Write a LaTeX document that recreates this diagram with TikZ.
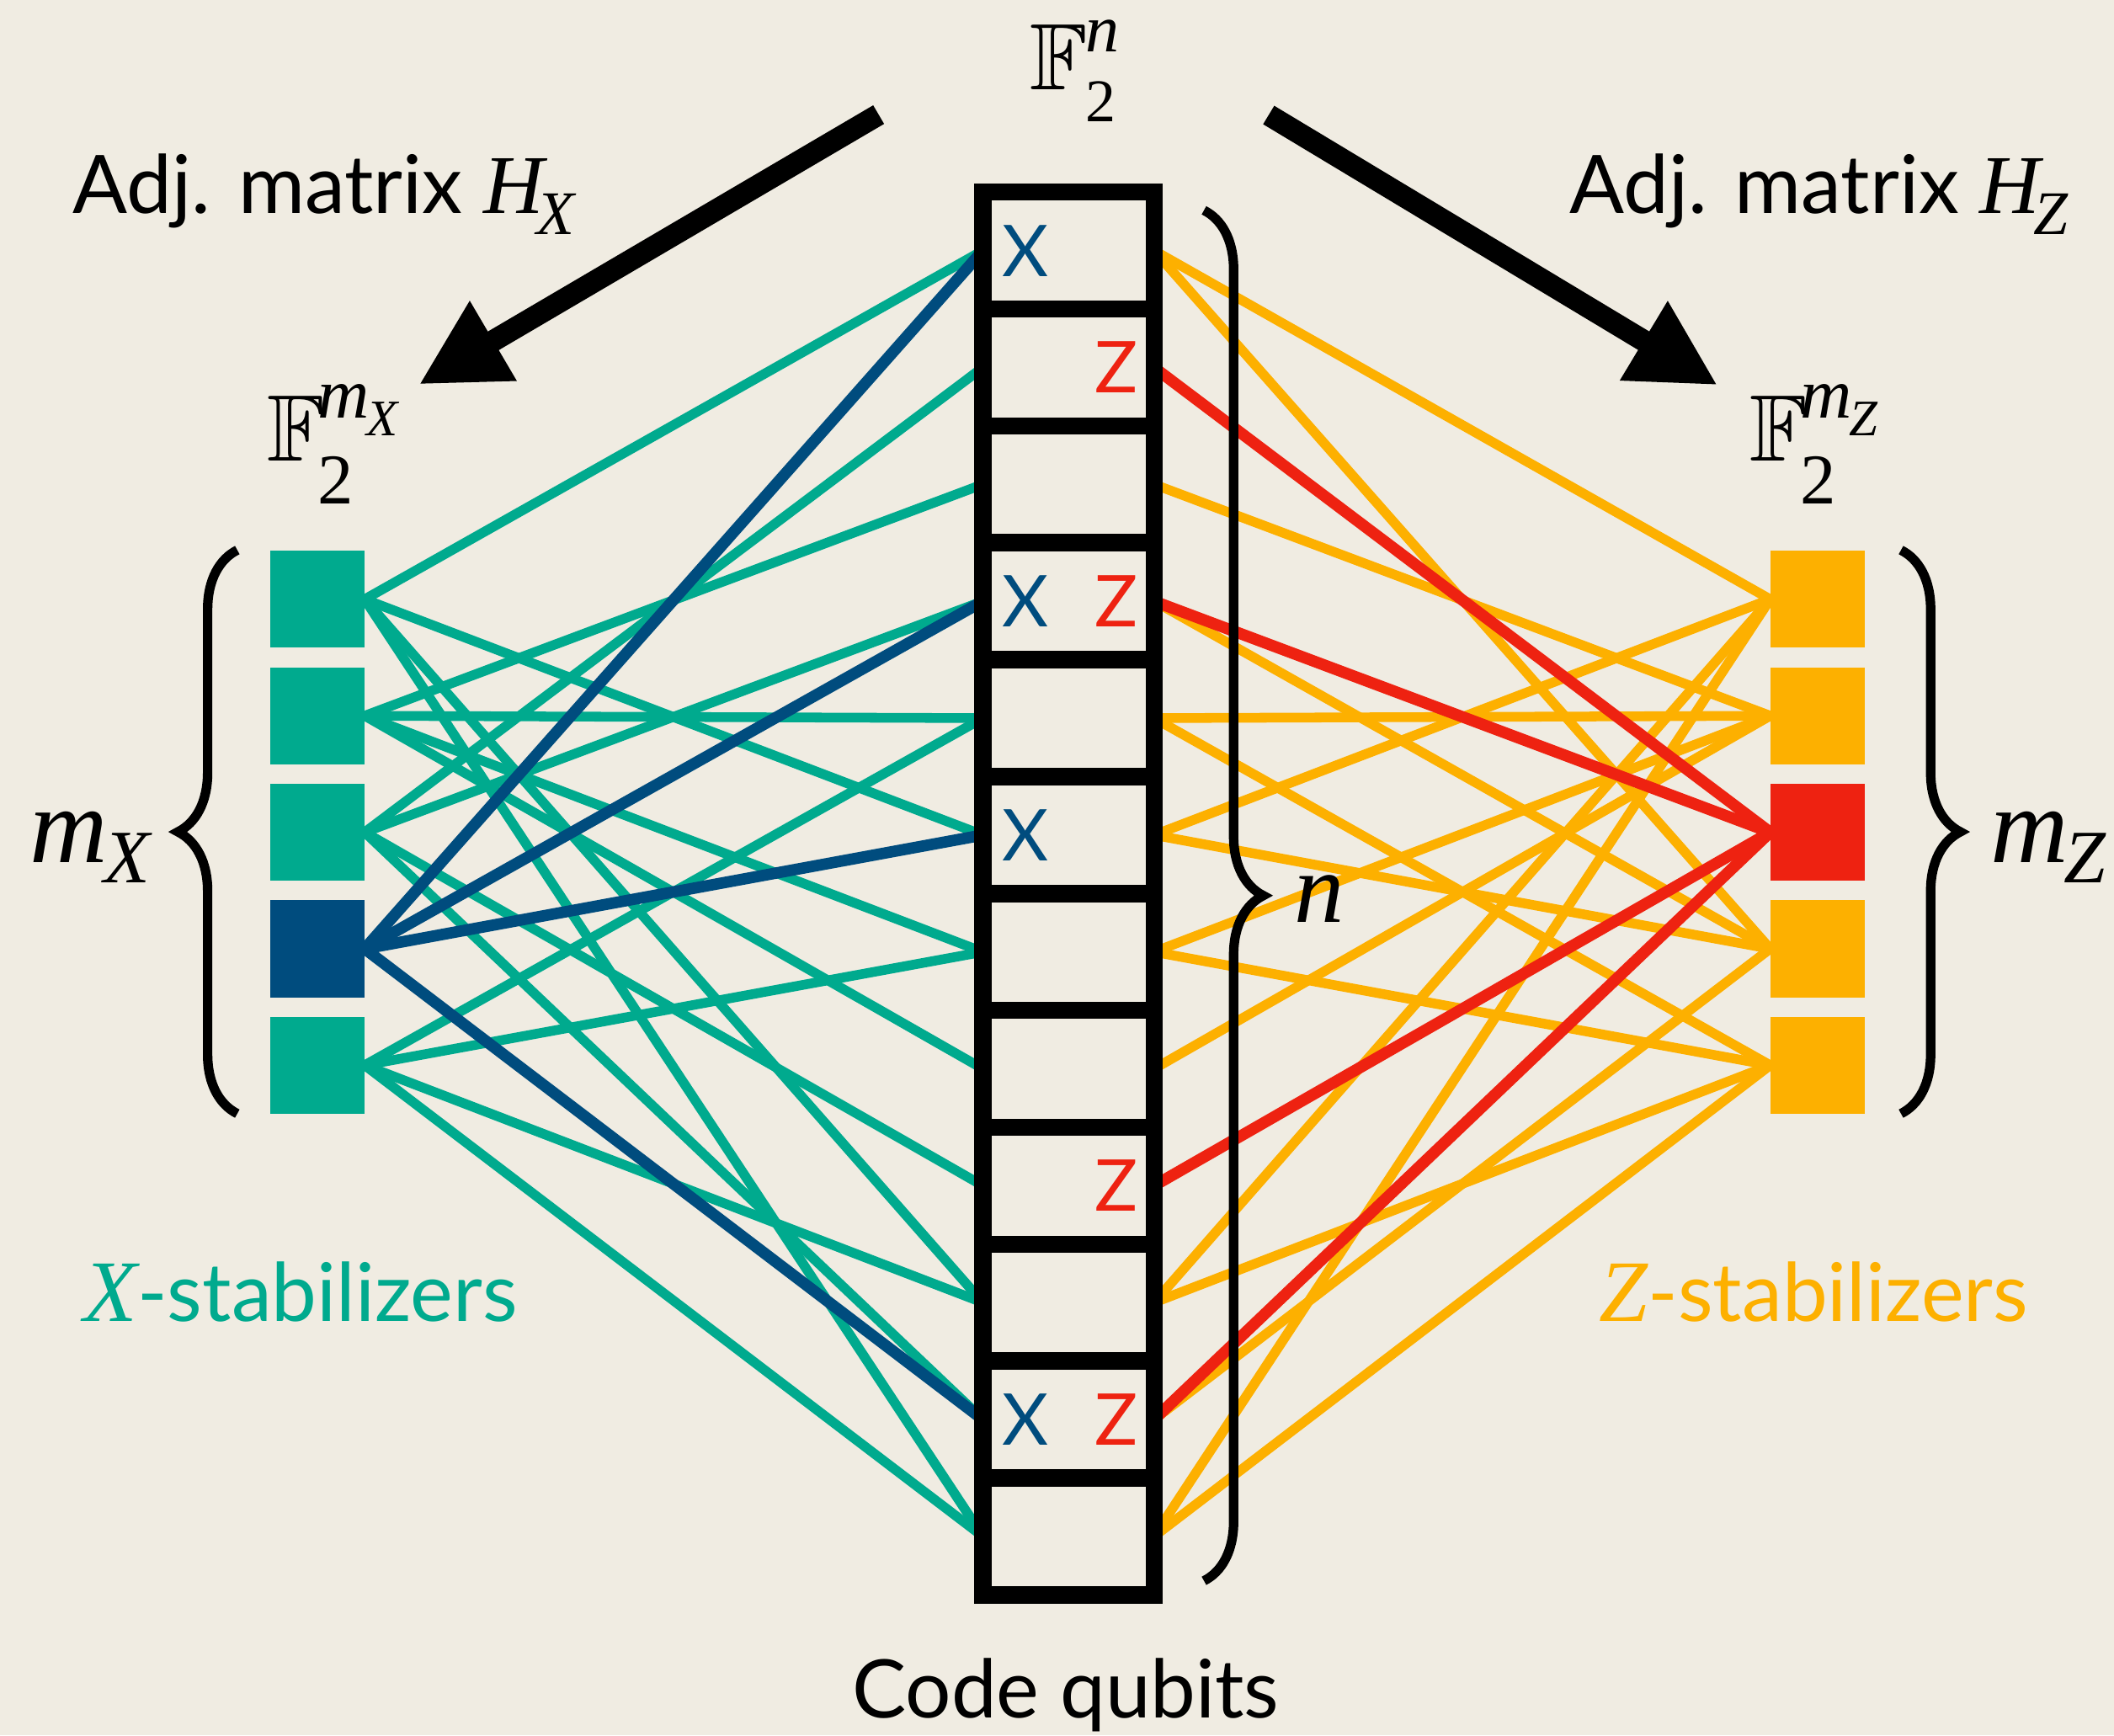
\documentclass[tikz,border=0pt]{standalone}
\usepackage{fix-cm}
\usepackage{amssymb}
\usepackage{fontspec}
\setmainfont{Lato}
\newfontfamily\tms{Liberation Serif}
\newcommand\fsz[1]{\fontsize{#1}{#1}\selectfont}
\usetikzlibrary{arrows.meta,decorations.pathreplacing}
\definecolor{bgc}{HTML}{F0ECE2}
\definecolor{xteal}{HTML}{00AA8E}
\definecolor{xblue}{HTML}{004C7E}
\definecolor{zorange}{HTML}{FDB000}
\definecolor{zred}{HTML}{EE2211}
\pgfdeclarelayer{back}
\pgfdeclarelayer{edges}
\pgfsetlayers{back,edges,main}
\begin{document}
\begin{tikzpicture}[x=1pt,y=-1pt,
  cell/.style={draw=black,line width=12.8pt,minimum width=127pt,minimum height=86.7pt,inner sep=0pt,outer sep=0pt},
  stab/.style={minimum width=70pt,minimum height=72pt,inner sep=0pt,outer sep=0pt},
  edgeT/.style={line width=7.2pt,color=xteal},
  edgeB/.style={line width=8.5pt,color=xblue},
  edgeO/.style={line width=7.2pt,color=zorange},
  edgeR/.style={line width=8.5pt,color=zred},
  bigarrow/.style={line width=16pt,-{Triangle[length=64pt,width=64pt]}},
  bracestyle/.style={decorate,decoration={brace,amplitude=44pt},line width=7pt},
  txt/.style={font=\fsz{60},inner sep=0pt},
  lab/.style={inner sep=0pt},
  qlab/.style={font=\fsz{53},inner sep=0pt}
]
\begin{pgfonlayer}{back}
\fill[bgc] (0,0) rectangle (1568,1287);
\end{pgfonlayer}
\useasboundingbox (0,0) rectangle (1568,1287);

% code qubit column
\foreach \k in {1,...,12}{
  \node[cell] (c\k) at (792.5,{142.5+(\k-0.5)*86.7}) {};
}
\foreach \k in {1,4,6,11}{
  \node[qlab,text=xblue,anchor=base] (xq\k) at (760.5,{142.5+(\k-0.5)*86.7+19}) {X};
}
\foreach \k in {2,4,9,11}{
  \node[qlab,text=zred,anchor=base] (zq\k) at (828,{142.5+(\k-0.5)*86.7+19}) {Z};
}

% stabilizer boxes
\foreach \i/\c in {1/xteal,2/xteal,3/xteal,4/xblue,5/xteal}{
  \node[stab,fill=\c] (L\i) at (235.5,{444.5+(\i-1)*86.4}) {};
}
\foreach \i/\c in {1/zorange,2/zorange,3/zred,4/zorange,5/zorange}{
  \node[stab,fill=\c] (R\i) at (1348,{444.5+(\i-1)*86.4}) {};
}

% edges
\begin{pgfonlayer}{edges}
\foreach \k in {1,6,10,12} \draw[edgeT] (L1.east) -- (c\k.west);
\foreach \k in {3,5,7,8}   \draw[edgeT] (L2.east) -- (c\k.west);
\foreach \k in {2,4,9,11}  \draw[edgeT] (L3.east) -- (c\k.west);
\foreach \k in {5,7,10,12} \draw[edgeT] (L5.east) -- (c\k.west);
\foreach \k in {1,4,6,11}  \draw[edgeB] (L4.east) -- (c\k.west);
\foreach \k in {1,6,10,12} \draw[edgeO] (c\k.east) -- (R1.west);
\foreach \k in {3,5,7,8}   \draw[edgeO] (c\k.east) -- (R2.west);
\foreach \k in {1,4,6,11}  \draw[edgeO] (c\k.east) -- (R4.west);
\foreach \k in {5,7,10,12} \draw[edgeO] (c\k.east) -- (R5.west);
\foreach \k in {2,4,9,11}  \draw[edgeR] (c\k.east) -- (R3.west);
\end{pgfonlayer}

% braces
\draw[bracestyle] (176,826) -- (176,408);
\draw[bracestyle] (1410,408) -- (1410,826);
\draw[bracestyle] (893,156) -- (893,1172.5);

% big arrows
\coordinate (aL0) at (651.7,85);
\coordinate (aL1) at (310.7,285.2);
\coordinate (aR0) at (941,85.3);
\coordinate (aR1) at (1274,285.7);
\draw[bigarrow] (aL0) -- (aL1);
\draw[bigarrow] (aR0) -- (aR1);

% labels
\node[lab,anchor=base west] (Fn) at (764,66.6)
  {\fsz{70}$\mathbb{F}$\kern-2pt\rlap{\raisebox{28pt}{\fsz{50}\tms\itshape n}}\raisebox{-23.4pt}{\fsz{45}\tms 2}};
\node[lab,anchor=base west] (FmX) at (198,342)
  {\fsz{70}$\mathbb{F}$\kern-5pt\rlap{\raisebox{32pt}{\fsz{53}\tms\itshape m\kern-2pt\raisebox{-13pt}{\fsz{38}X}}}\raisebox{-31.8pt}{\fsz{53}\tms 2}};
\node[lab,anchor=base west] (FmZ) at (1297.6,342)
  {\fsz{70}$\mathbb{F}$\kern-5pt\rlap{\raisebox{32pt}{\fsz{53}\tms\itshape m\kern-2pt\raisebox{-13pt}{\fsz{38}Z}}}\raisebox{-31.8pt}{\fsz{53}\tms 2}};
\node[lab,anchor=base west] (mX) at (22,640) {\fsz{80}\tms\itshape m\kern-3pt\raisebox{-15pt}{\fsz{56}X}};
\node[lab,anchor=base west] (mZ) at (1476,640) {\fsz{80}\tms\itshape m\kern-3pt\raisebox{-15pt}{\fsz{56}Z}};
\node[lab,anchor=base west] (nlab) at (960,684) {\fsz{74}\tms\itshape n};

\node[txt,anchor=base west] (adjX) at (54,158)
  {Adj. matrix {\tms\itshape\fsz{62}H\kern-5pt\raisebox{-16pt}{\fsz{46}X}}};
\node[txt,anchor=base west] (adjZ) at (1164,158)
  {Adj. matrix {\tms\itshape\fsz{62}H\kern-5pt\raisebox{-16pt}{\fsz{46}Z}}};
\node[txt,anchor=base] (code) at (790.5,1274) {Code qubits};
\node[txt,text=xteal,anchor=base west] (xs) at (62,980) {{\tms\itshape\fsz{65}X}-stabilizers};
\node[txt,text=zorange,anchor=base west] (zs) at (1186,980) {{\tms\itshape\fsz{65}Z}-stabilizers};
\end{tikzpicture}
\end{document}
